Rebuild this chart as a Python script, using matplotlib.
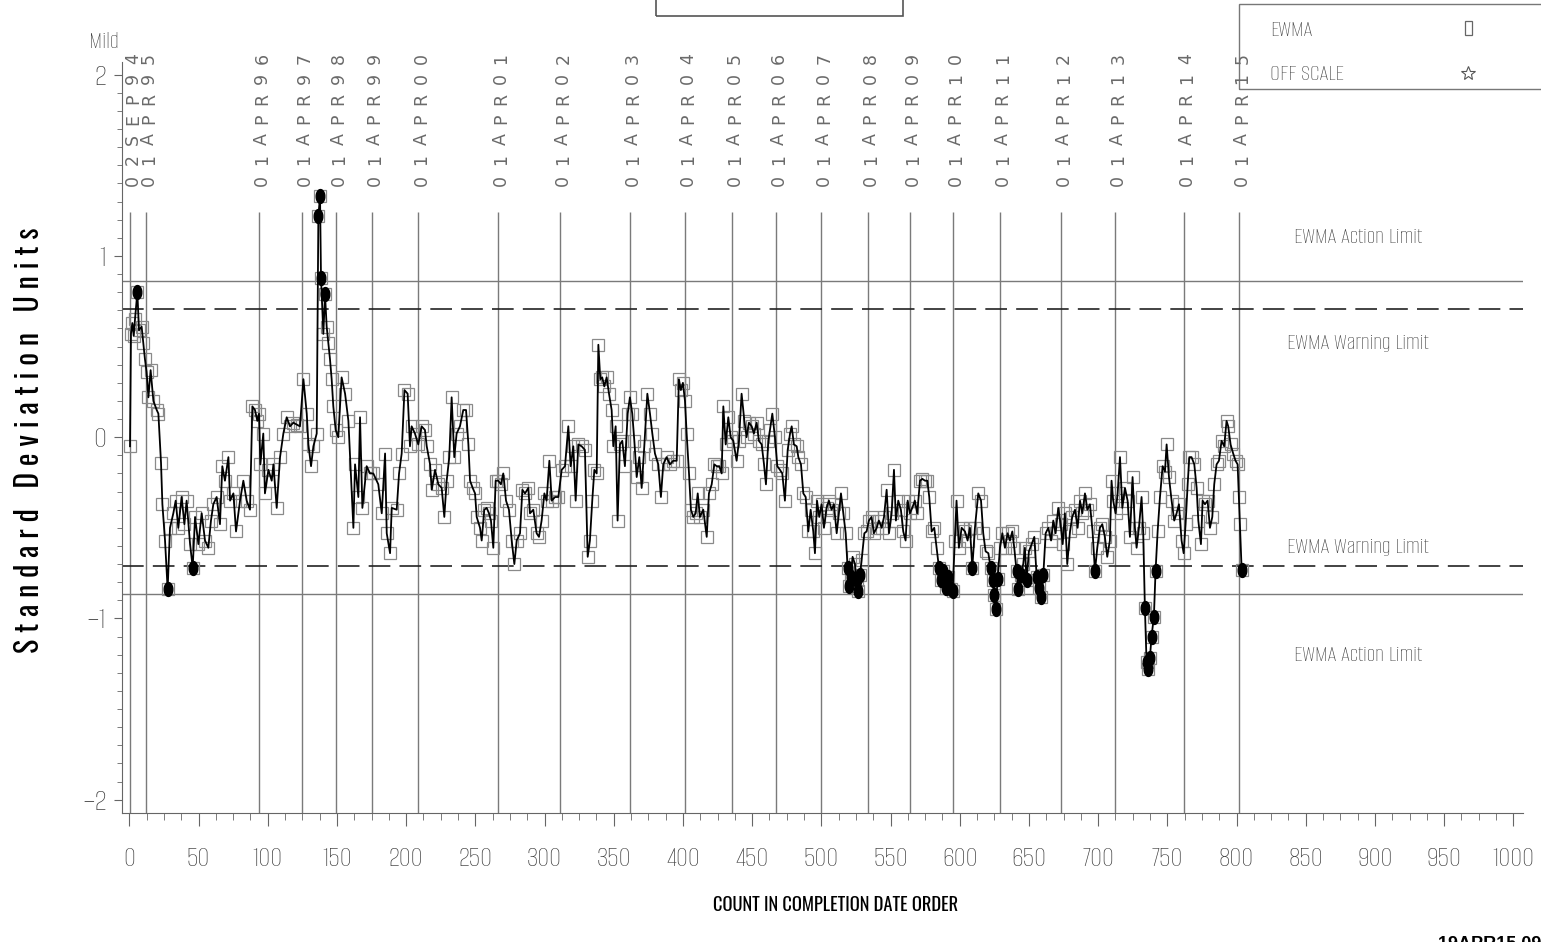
import numpy as np
import matplotlib
matplotlib.use("Agg")
import matplotlib.pyplot as plt
from matplotlib import transforms
from matplotlib.patches import Rectangle
from matplotlib.lines import Line2D
from matplotlib.path import Path
from matplotlib.ticker import MultipleLocator

# EWMA values (count in completion date order, standard deviation units)
ewma_1994_2000 = [
    (0.5, -0.05), (1.2, 0.57), (2.2, 0.63), (3.2, 0.56), (4.1, 0.65), (5.8, 0.80), (7.0, 0.59),
    (8.9, 0.61), (10.1, 0.52), (11.3, 0.43), (12.5, 0.36), (13.8, 0.22), (15.4, 0.37), (17.4, 0.20),
    (19.8, 0.15), (21.0, 0.13), (22.9, -0.14), (23.9, -0.37), (25.8, -0.57), (27.7, -0.84),
    (29.4, -0.50), (31.8, -0.42), (33.5, -0.35), (35.4, -0.50), (37.8, -0.33), (39.8, -0.48),
    (41.4, -0.35), (43.9, -0.59), (45.8, -0.72), (47.5, -0.44), (49.9, -0.59), (52.3, -0.42),
    (54.7, -0.57), (57.1, -0.61), (59.0, -0.46), (60.7, -0.37), (63.1, -0.33), (65.5, -0.48),
    (67.2, -0.16), (69.1, -0.24), (71.6, -0.11), (72.8, -0.35), (75.2, -0.31), (77.1, -0.52),
    (80.0, -0.35), (82.4, -0.24), (84.8, -0.35), (87.2, -0.40), (88.9, 0.17), (90.8, 0.15),
    (92.5, 0.09), (93.7, 0.13), (94.7, -0.15), (96.8, 0.02), (98.0, -0.31), (100.5, -0.18),
    (102.9, -0.24), (104.1, -0.15), (106.5, -0.39), (108.9, -0.11), (111.3, 0.02), (113.7, 0.11),
    (116.1, 0.06), (118.5, 0.08), (120.9, 0.07), (123.3, 0.06), (125.8, 0.32), (128.2, 0.13),
    (129.4, -0.04), (131.3, -0.16), (133.0, -0.05), (135.4, 0.02), (136.6, 1.22), (137.8, 1.33),
    (138.5, 0.88), (140.2, 0.57), (141.4, 0.79), (142.6, 0.61), (143.8, 0.52), (145.0, 0.43),
    (146.2, 0.32), (147.4, 0.17), (149.1, 0.04), (151.0, 0.00), (153.4, 0.33), (155.9, 0.24),
    (158.3, 0.09), (161.9, -0.50), (163.1, -0.15), (165.5, -0.33), (166.7, 0.11), (168.4, -0.39),
    (171.5, -0.16), (173.9, -0.20), (176.3, -0.20), (179.9, -0.26), (182.4, -0.42), (184.8, -0.09),
    (186.0, -0.53), (188.4, -0.64), (189.6, -0.39), (193.2, -0.40), (194.9, -0.20), (196.8, -0.09),
    (198.8, 0.26),
]
ewma_2000_2004 = [
    (201.1, 0.24), (202.8, -0.05), (204.0, 0.06), (206.4, 0.02), (208.8, -0.04), (211.2, 0.06),
    (213.6, 0.04), (214.9, -0.05), (217.3, -0.15), (218.5, -0.29), (220.9, -0.18), (223.3, -0.26),
    (225.7, -0.28), (227.6, -0.44), (229.3, -0.24), (231.2, -0.11), (232.9, 0.22), (234.8, -0.11),
    (236.5, 0.02), (238.9, 0.06), (241.3, 0.15), (243.3, 0.15), (245.0, -0.04), (246.2, -0.24),
    (248.1, -0.28), (249.8, -0.31), (251.0, -0.44), (253.4, -0.50), (254.6, -0.57), (256.5, -0.40),
    (258.2, -0.39), (259.9, -0.42), (261.3, -0.46), (263.0, -0.61), (264.7, -0.24), (266.6, -0.24),
    (268.5, -0.26), (270.2, -0.20), (272.2, -0.35), (274.3, -0.40), (276.3, -0.57), (278.2, -0.70),
    (279.9, -0.57), (282.3, -0.53), (284.0, -0.29), (285.9, -0.31), (288.3, -0.28), (289.5, -0.42),
    (291.9, -0.40), (294.3, -0.53), (296.0, -0.55), (297.9, -0.46), (299.9, -0.31), (301.5, -0.35),
    (303.5, -0.13), (305.2, -0.35), (307.6, -0.33), (310.0, -0.33), (312.4, -0.18), (314.8, -0.16),
    (317.2, 0.06), (318.9, -0.16), (320.8, -0.05), (322.5, -0.35), (324.4, -0.04), (326.8, -0.05),
    (329.2, -0.07), (331.2, -0.66), (332.8, -0.57), (334.5, -0.35), (336.0, -0.18), (337.7, -0.20),
    (338.9, 0.51), (340.3, 0.32), (341.7, 0.33), (343.2, 0.28), (344.9, 0.33), (346.6, 0.24),
    (348.5, 0.15), (349.7, -0.05), (351.4, 0.06), (352.8, -0.46), (354.5, -0.04), (356.2, -0.02),
    (358.1, -0.16), (360.1, 0.13), (361.7, 0.22), (363.4, 0.13), (364.9, -0.02), (366.6, -0.22),
    (368.5, -0.11), (370.2, -0.28), (372.1, -0.05), (374.3, 0.24), (376.2, 0.13), (377.9, 0.02),
    (379.8, -0.09), (382.2, -0.15), (384.1, -0.33), (385.8, -0.15), (388.2, -0.11), (390.6, -0.15),
    (393.0, -0.13), (395.5, -0.13), (397.1, 0.32), (398.5, 0.26), (400.0, 0.30),
]
ewma_2004_2010 = [
    (401.5, 0.20), (402.7, 0.02), (404.4, -0.20), (405.8, -0.40), (407.5, -0.44), (409.2, -0.42),
    (410.7, -0.31), (412.3, -0.44), (414.7, -0.40), (417.2, -0.55), (418.8, -0.31), (420.8, -0.26),
    (422.7, -0.15), (424.4, -0.16), (426.3, -0.16), (428.0, -0.20), (429.2, 0.17), (430.9, -0.04),
    (432.8, 0.11), (434.5, 0.00), (436.4, -0.02), (438.8, -0.13), (440.5, -0.02), (442.4, 0.24),
    (444.4, 0.09), (446.0, 0.00), (447.7, 0.08), (449.7, 0.06), (451.3, 0.02), (453.3, 0.08),
    (454.9, -0.02), (456.9, -0.04), (458.6, -0.15), (460.0, -0.26), (461.7, -0.02), (462.9, 0.04),
    (464.6, 0.13), (466.5, 0.00), (468.2, -0.16), (470.1, -0.18), (471.8, -0.20), (473.7, -0.35),
    (475.7, -0.07), (477.4, 0.02), (478.6, 0.06), (480.2, -0.04), (482.2, -0.05), (483.4, -0.11),
    (485.3, -0.15), (487.0, -0.31), (488.7, -0.33), (490.6, -0.52), (492.3, -0.40), (494.2, -0.52),
    (495.4, -0.64), (496.9, -0.35), (498.5, -0.44), (500.2, -0.37), (501.9, -0.50), (503.8, -0.39),
    (505.5, -0.35), (507.4, -0.40), (509.1, -0.37), (511.1, -0.53), (512.7, -0.42), (514.2, -0.31),
    (515.9, -0.42), (517.6, -0.53), (519.0, -0.72), (520.0, -0.82), (521.2, -0.77), (522.6, -0.66),
    (524.3, -0.70), (525.5, -0.79), (526.7, -0.85), (527.9, -0.76), (529.1, -0.68), (531.1, -0.53),
    (532.7, -0.52), (534.4, -0.46), (536.3, -0.44), (538.0, -0.53), (540.0, -0.50), (541.6, -0.46),
    (543.6, -0.50), (545.3, -0.44), (547.2, -0.29), (548.9, -0.53), (550.8, -0.42), (552.5, -0.18),
    (553.9, -0.46), (555.6, -0.35), (557.5, -0.40), (559.2, -0.52), (560.9, -0.57), (562.4, -0.35),
    (564.0, -0.42), (565.7, -0.39), (567.6, -0.35), (569.3, -0.42), (571.3, -0.24), (573.0, -0.23),
    (574.9, -0.24), (576.6, -0.24), (578.0, -0.33), (579.7, -0.52), (581.6, -0.50), (583.3, -0.61),
    (585.0, -0.72), (586.4, -0.79), (588.1, -0.74), (589.8, -0.83), (591.7, -0.77), (593.4, -0.84),
    (594.9, -0.85), (596.5, -0.57), (597.7, -0.35), (599.4, -0.61), (601.4, -0.50),
]
ewma_2010_2015 = [
    (603.8, -0.52), (605.7, -0.57), (607.4, -0.50), (609.1, -0.72), (611.0, -0.50), (613.4, -0.31),
    (615.4, -0.35), (617.0, -0.53), (618.7, -0.63), (620.7, -0.64), (622.3, -0.72), (623.8, -0.79),
    (625.0, -0.87), (626.0, -0.95), (627.4, -0.78), (629.1, -0.61), (630.8, -0.53), (632.7, -0.61),
    (634.6, -0.53), (636.3, -0.57), (638.0, -0.52), (639.4, -0.61), (641.1, -0.74), (642.3, -0.84),
    (644.0, -0.76), (645.9, -0.70), (647.1, -0.61), (648.3, -0.79), (650.0, -0.63), (652.0, -0.59),
    (653.9, -0.55), (655.6, -0.77), (657.3, -0.83), (658.7, -0.88), (660.4, -0.76), (662.1, -0.53),
    (664.0, -0.50), (666.0, -0.57), (667.6, -0.46), (669.3, -0.53), (671.2, -0.39), (672.9, -0.48),
    (674.4, -0.59), (676.0, -0.42), (677.7, -0.70), (679.7, -0.52), (681.3, -0.44), (683.3, -0.40),
    (685.2, -0.50), (686.9, -0.35), (688.6, -0.42), (690.5, -0.31), (692.2, -0.40), (694.1, -0.37),
    (696.0, -0.52), (697.7, -0.74), (699.4, -0.61), (701.3, -0.50), (703.0, -0.48), (704.9, -0.55),
    (706.6, -0.66), (708.5, -0.57), (709.7, -0.24), (710.9, -0.35), (712.6, -0.42), (714.1, -0.31),
    (715.8, -0.11), (717.5, -0.39), (719.4, -0.28), (721.3, -0.35), (723.0, -0.55), (724.9, -0.22),
    (726.6, -0.50), (727.8, -0.61), (729.5, -0.50), (731.4, -0.33), (732.6, -0.53), (733.8, -0.94),
    (735.0, -1.24), (736.2, -1.28), (737.4, -1.22), (738.6, -1.10), (740.3, -0.99), (741.5, -0.74),
    (743.0, -0.52), (744.7, -0.33), (746.6, -0.16), (748.3, -0.19), (749.5, -0.04), (751.2, -0.22),
    (753.1, -0.35), (755.0, -0.46), (756.7, -0.42), (758.4, -0.37), (760.3, -0.57), (761.8, -0.64),
    (763.2, -0.48), (764.7, -0.26), (765.9, -0.11), (767.5, -0.11), (769.5, -0.15), (771.2, -0.28),
    (772.4, -0.46), (774.3, -0.59), (775.5, -0.35), (777.2, -0.37), (779.1, -0.35), (780.8, -0.50),
    (782.5, -0.44), (783.9, -0.26), (785.6, -0.15), (787.3, -0.13), (789.2, -0.02), (791.1, -0.05),
    (792.8, 0.09), (794.0, 0.06), (795.7, -0.04), (797.6, -0.09), (799.3, -0.13), (800.8, -0.15),
    (801.7, -0.33), (802.5, -0.48), (803.7, -0.73),
]

# date markers (count where each period starts)
date_counts = [0.5, 12.1, 93.9, 124.5, 149.1, 175.1, 208.9, 266.6, 311.4, 361.6, 401.5,
               435.3, 467.3, 500.0, 533.5, 563.9, 594.9, 628.9, 673.0, 712.4, 761.8, 802.0]
date_labels = ["02SEP94", "01APR95", "01APR96", "01APR97", "01APR98", "01APR99", "01APR00",
               "01APR01", "01APR02", "01APR03", "01APR04", "01APR05", "01APR06", "01APR07",
               "01APR08", "01APR09", "01APR10", "01APR11", "01APR12", "01APR13", "01APR14",
               "01APR15"]

action_limit = 0.864
warning_limit = 0.709

pts = ewma_1994_2000 + ewma_2000_2004 + ewma_2004_2010 + ewma_2010_2015
count = np.array([p[0] for p in pts])
ewma = np.array([p[1] for p in pts])

THIN = ["Alumni Sans", "Liberation Sans Narrow", "DejaVu Sans"]
BOLDC = ["Oswald", "Roboto Condensed", "Archivo Narrow", "Fjalla One", "DejaVu Sans"]
GRAY = "#3c3c3c"

W, H = 1541, 942
fig = plt.figure(figsize=(W / 100, H / 100), dpi=100)
ax = fig.add_axes([121.7 / W, 1 - 813.3 / H, (1523 - 121.7) / W, (813.3 - 62) / H])


def px(x, y):
    return x / W, 1 - y / H


ax.set_xlim(-5.5, 1007)
ax.set_ylim(-2.075, 2.07)

# period lines
ax.vlines(date_counts, -2.075, 1.24, color="#7a7a7a", lw=1.0, zorder=1)

# limits
for s in (1, -1):
    ax.axhline(s * action_limit, color="#7a7a7a", lw=1.0, zorder=1)
    ax.axhline(s * warning_limit, color="#222222", lw=1.2, dashes=(13, 5.5), zorder=1)

# series
ax.plot(count, ewma, ls="none", marker="s", ms=8.5, mfc="none", mec="#8a8a8a", mew=0.9, zorder=2)
ax.plot(count, ewma, color="black", lw=1.3, zorder=3)
t = np.linspace(0, 2 * np.pi, 40)
ell = Path(np.column_stack([0.62 * np.cos(t), np.sin(t)]))
out = np.abs(ewma) > warning_limit
ax.plot(count[out], ewma[out], ls="none", marker=ell, ms=10, color="black", zorder=4)

# axes styling
for side in ("top", "right"):
    ax.spines[side].set_visible(False)
for side in ("left", "bottom"):
    ax.spines[side].set_color("#666666")
ax.xaxis.set_major_locator(MultipleLocator(50))
ax.xaxis.set_minor_locator(MultipleLocator(12.5))
ax.yaxis.set_major_locator(MultipleLocator(1))
ax.yaxis.set_minor_locator(MultipleLocator(0.1))
ax.tick_params(axis="x", which="major", length=9.4, color="#666666", labelcolor=GRAY,
               labelsize=21, pad=15)
ax.tick_params(axis="x", which="minor", length=5, color="#666666")
ax.tick_params(axis="y", which="major", length=6, color="#666666", labelcolor=GRAY,
               labelsize=23, pad=5)
ax.tick_params(axis="y", which="minor", length=3.6, color="#666666")
for lab in ax.get_xticklabels() + ax.get_yticklabels():
    lab.set_family(THIN)

# limit labels
for y, txt in [(237, "EWMA Action Limit"), (343, "EWMA Warning Limit"),
               (547, "EWMA Warning Limit"), (655, "EWMA Action Limit")]:
    fig.text(*px(1358, y), txt, ha="center", va="center", fontsize=17.5, color=GRAY, family=THIN)

# vertical date labels, letter by letter
trans = transforms.blended_transform_factory(ax.transData, fig.transFigure) + \
    transforms.ScaledTranslation(3 / 100, 0, fig.dpi_scale_trans)
for xc, lab in zip(date_counts, date_labels):
    for i, ch in enumerate(lab):
        fig.text(xc, 1 - (180 - i * 20.3) / H, ch, transform=trans, rotation=90,
                 ha="center", va="center", fontsize=12.5, color="#6a6a6a",
                 family=["DejaVu Sans"])

fig.text(*px(104, 42), "Mild", ha="center", va="center", fontsize=18, color=GRAY, family=THIN)

# axis titles
fig.text(*px(30, 440), "S t a n d a r d   D e v i a t i o n   U n i t s", rotation=90,
         ha="center", va="center", fontsize=21.5, fontweight="bold", family=BOLDC)
fig.text(*px(836, 905), "COUNT IN COMPLETION DATE ORDER", ha="center", va="center",
         fontsize=13.3, fontweight="bold", family=BOLDC)
fig.text(*px(1438, 936), "19APR15 09:30", ha="left", va="top", fontsize=13,
         fontweight="bold", family=["Liberation Sans", "DejaVu Sans"])

# title box and legend box
fig.add_artist(Rectangle(px(656, 16), (903 - 656) / W, 40 / H, transform=fig.transFigure,
                         fill=False, ec="#555555", lw=1.2, clip_on=False))
fig.add_artist(Rectangle(px(1239, 89), 400 / W, 85 / H, transform=fig.transFigure,
                         fill=False, ec="#777777", lw=1.0, clip_on=False))
fig.text(*px(1270, 30), "EWMA", ha="left", va="center", fontsize=17.5, color=GRAY, family=THIN)
fig.text(*px(1270, 74), "OFF SCALE", ha="left", va="center", fontsize=17.5, color=GRAY, family=THIN)
fig.add_artist(Rectangle(px(1465, 35), 7 / W, 14 / H, transform=fig.transFigure,
                         fill=False, ec="#666666", lw=0.9))
fig.add_artist(Line2D([1468 / W], [1 - 73 / H], transform=fig.transFigure, marker="*",
                      ms=10, mfc="none", mec="#555555", mew=0.8, ls="none"))

fig.savefig("out.png", dpi=100)
